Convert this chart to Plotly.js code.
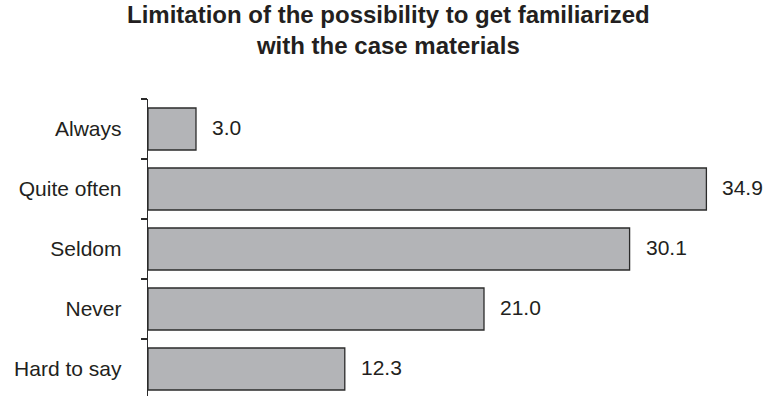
<!DOCTYPE html>
<html>
<head>
<meta charset="utf-8">
<script src="https://cdn.plot.ly/plotly-3.0.1.min.js"></script>
<style>html,body{margin:0;padding:0;background:#fff}#chart{width:772px;height:396px}</style>
</head>
<body>
<div id="chart"></div>
<script>
var categories = ["Always", "Quite often", "Seldom", "Never", "Hard to say"];
var values = [3.0, 34.9, 30.1, 21.0, 12.3];
var valueLabels = ["3.0", "34.9", "30.1", "21.0", "12.3"];
var titleLines = ["Limitation of the possibility to get familiarized", "with the case materials"];

var FONT = "Liberation Sans, Arial, Helvetica, sans-serif";
var TXT = "#231f20";

var trace = {
  type: "bar",
  orientation: "h",
  x: values,
  y: categories,
  width: 0.7,
  marker: {color: "#b3b4b7", line: {color: "#2b2b2b", width: 1.3}},
  hoverinfo: "skip"
};

var annotations = categories.map(function (c, i) {
  return {
    x: values[i], y: c, xref: "x", yref: "y",
    text: valueLabels[i], showarrow: false,
    xanchor: "left", yanchor: "middle", xshift: 14, yshift: 2,
    font: {family: FONT, size: 21, color: TXT}
  };
});

annotations.push({
  text: titleLines.map(function (t) { return "<b>" + t + "</b>"; }).join("<br>"),
  showarrow: false,
  xref: "paper", yref: "paper",
  x: (388 - 148) / 608, y: 1 + (99 - 0) / 297,
  xanchor: "center", yanchor: "top", align: "center",
  borderpad: 0,
  font: {family: FONT, size: 24, color: TXT}
});

var layout = {
  width: 772, height: 396,
  margin: {l: 148, r: 16, t: 99, b: 0},
  paper_bgcolor: "#ffffff", plot_bgcolor: "#ffffff",
  showlegend: false,
  xaxis: {range: [0, 38], visible: false, fixedrange: true},
  yaxis: {
    type: "category",
    range: [4.45, -0.5],
    showline: true, linecolor: "#2b2b2b", linewidth: 1.3,
    ticks: "outside", ticklen: 6, tickcolor: "#2b2b2b", tickwidth: 1.3,
    tickson: "boundaries",
    ticklabelstandoff: 21,
    showgrid: false, zeroline: false,
    tickfont: {family: FONT, size: 21, color: TXT}
  },
  annotations: annotations
};

Plotly.newPlot("chart", [trace], layout, {staticPlot: true, displayModeBar: false});
</script>
</body>
</html>
